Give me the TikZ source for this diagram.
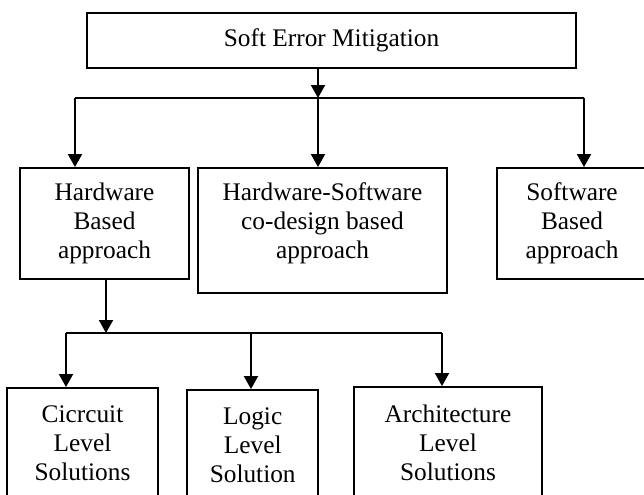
\documentclass[tikz,border=0pt]{standalone}
\usepackage{fontspec}
\setmainfont{Liberation Serif}
\usetikzlibrary{arrows.meta}
\tikzset{
  boxnode/.style={draw=black, line width=1.4pt, rectangle, inner sep=2pt,
    align=center, font=\fontsize{19}{21.75}\selectfont},
  conn/.style={draw=black, line width=1.4pt},
  arr/.style={conn, -{Triangle[length=9.75pt,width=10.5pt]}},
  txt/.style={align=center, inner sep=0pt, font=\fontsize{19}{21.75}\selectfont}
}
\begin{document}
\begin{tikzpicture}[x=0.75pt,y=-0.75pt]
\fill[white] (0,0) rectangle (644,494);
\useasboundingbox (0,0) rectangle (644,494);
% top box: 87-576 x 13-68
\node[boxnode, minimum width=366.75pt, minimum height=41.25pt] (top) at (331.5,40.5) {Soft Error Mitigation};
% second row
\node[boxnode, minimum width=126.75pt, minimum height=83.25pt] (hw) at (104.5,223.5) {Hardware\\Based\\approach};
\node[boxnode, minimum width=186.75pt, minimum height=93.75pt] (hsw) at (322.5,230.5) {};
\node[txt] (hswtext) at (322.5,223.5) {Hardware-Software\\co-design based\\approach};
\node[boxnode, minimum width=112.5pt, minimum height=83.25pt] (sw) at (572,223.5) {Software\\Based\\approach};
% third row
\node[boxnode, minimum width=113.25pt, minimum height=83.25pt] (cl) at (82.5,443.5) {Cicrcuit\\Level\\Solutions};
\node[boxnode, minimum width=98.25pt, minimum height=83.25pt] (ll) at (252.7,445.5) {Logic\\Level\\Solution};
\node[boxnode, minimum width=141pt, minimum height=83.25pt] (al) at (448,442.5) {Architecture\\Level\\Solutions};
% junction coordinates
\coordinate (j1) at (318,98);
\coordinate (b1L) at (75,98);
\coordinate (b1R) at (584,98);
\coordinate (j2) at (106,333);
\coordinate (b2L) at (66,333);
\coordinate (b2M) at (251,333);
\coordinate (b2R) at (442,333);
% first level connectors
\draw[arr] (top.south -| j1) -- (j1);
\draw[conn] (b1L) -- (b1R);
\draw[arr] (b1L) -- (hw.north -| b1L);
\draw[arr] (j1) -- (hsw.north -| j1);
\draw[arr] (b1R) -- (sw.north -| b1R);
% second level connectors
\draw[arr] (hw.south -| j2) -- (j2);
\draw[conn] (b2L) -- (b2R);
\draw[arr] (b2L) -- (cl.north -| b2L);
\draw[arr] (b2M) -- (ll.north -| b2M);
\draw[arr] (b2R) -- (al.north -| b2R);
\end{tikzpicture}
\end{document}
